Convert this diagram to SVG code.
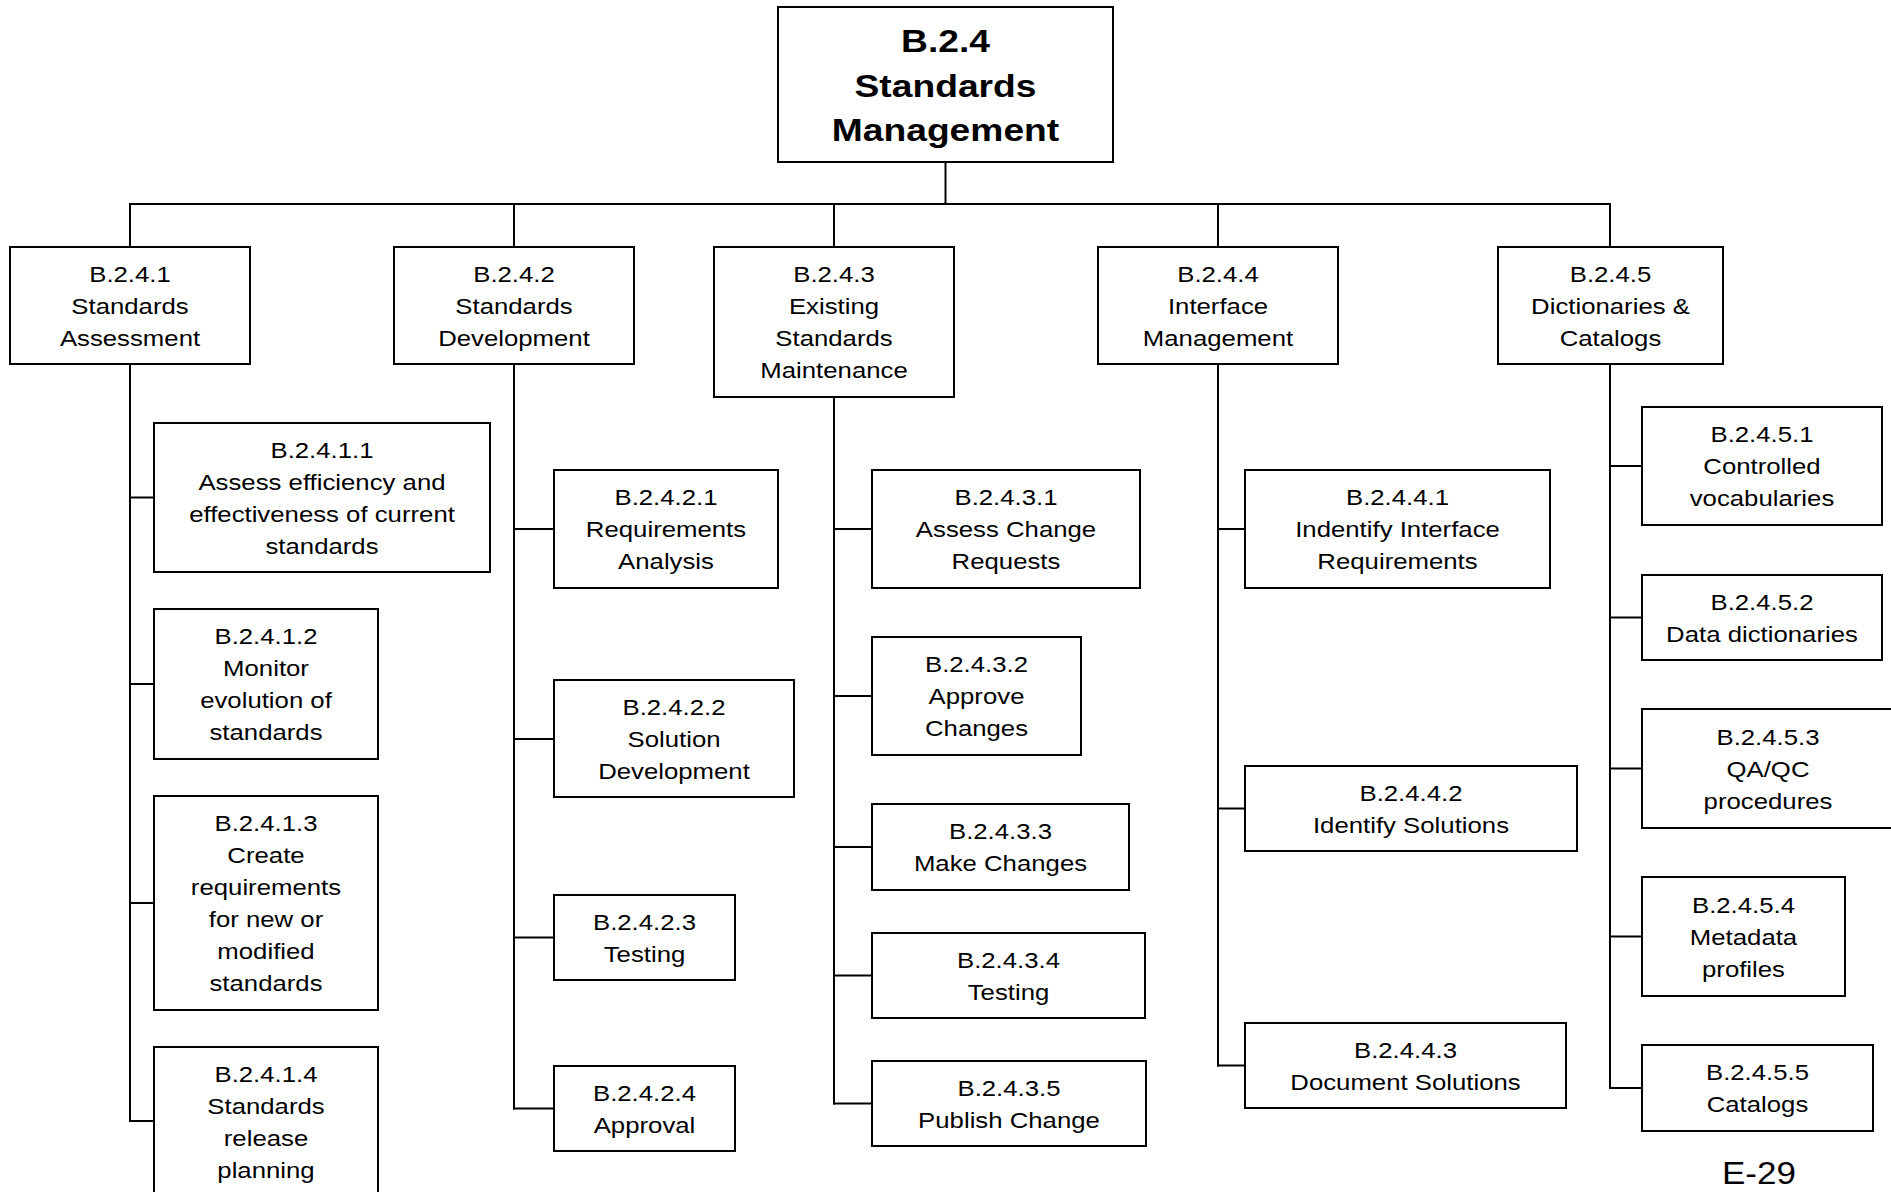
<svg xmlns="http://www.w3.org/2000/svg" width="1891" height="1192" viewBox="0 0 1891 1192">
<style>
rect{fill:#fff;stroke:#000;stroke-width:2}
.c line{stroke:#000;stroke-width:2}
text{font-family:"Liberation Sans",Arial,sans-serif;font-size:23px;fill:#000;text-anchor:middle}
.b{font-weight:bold;font-size:31px}
.p{font-size:31px}
</style>
<rect x="0" y="0" width="1891" height="1192" style="stroke:none"/>
<g class="c" id="connectors">
<line x1="945.5" y1="162" x2="945.5" y2="204"/>
<line x1="129" y1="204" x2="1611" y2="204"/>
<line x1="130" y1="204" x2="130" y2="247"/>
<line x1="514" y1="204" x2="514" y2="247"/>
<line x1="834" y1="204" x2="834" y2="247"/>
<line x1="1218" y1="204" x2="1218" y2="247"/>
<line x1="1610" y1="204" x2="1610" y2="247"/>
<line x1="130" y1="364" x2="130" y2="1122"/>
<line x1="514" y1="364" x2="514" y2="1109.5"/>
<line x1="834" y1="397" x2="834" y2="1104.5"/>
<line x1="1218" y1="364" x2="1218" y2="1066.5"/>
<line x1="1610" y1="364" x2="1610" y2="1089"/>
<line x1="129" y1="497.5" x2="154" y2="497.5"/>
<line x1="129" y1="684" x2="154" y2="684"/>
<line x1="129" y1="903" x2="154" y2="903"/>
<line x1="129" y1="1121" x2="154" y2="1121"/>
<line x1="513" y1="529" x2="554" y2="529"/>
<line x1="513" y1="739" x2="554" y2="739"/>
<line x1="513" y1="937.5" x2="554" y2="937.5"/>
<line x1="513" y1="1108.5" x2="554" y2="1108.5"/>
<line x1="833" y1="529" x2="872" y2="529"/>
<line x1="833" y1="696" x2="872" y2="696"/>
<line x1="833" y1="847" x2="872" y2="847"/>
<line x1="833" y1="975.5" x2="872" y2="975.5"/>
<line x1="833" y1="1103.5" x2="872" y2="1103.5"/>
<line x1="1217" y1="529" x2="1245" y2="529"/>
<line x1="1217" y1="808.5" x2="1245" y2="808.5"/>
<line x1="1217" y1="1065.5" x2="1245" y2="1065.5"/>
<line x1="1609" y1="466" x2="1642" y2="466"/>
<line x1="1609" y1="617.5" x2="1642" y2="617.5"/>
<line x1="1609" y1="768.5" x2="1642" y2="768.5"/>
<line x1="1609" y1="936.5" x2="1642" y2="936.5"/>
<line x1="1609" y1="1088" x2="1642" y2="1088"/>
</g>
<g id="n-B.2.4"><rect x="778" y="7" width="335" height="155"/>
<text class="b" transform="matrix(1.2,0,0,1,945.5,0)"><tspan x="0" y="52.5">B.2.4</tspan><tspan x="0" y="97">Standards</tspan><tspan x="0" y="141">Management</tspan></text></g>

<g id="n-B.2.4.1"><rect x="10" y="247" width="240" height="117"/>
<text transform="matrix(1.12,0,0,1,130,0)"><tspan x="0" y="282">B.2.4.1</tspan><tspan x="0" y="314">Standards</tspan><tspan x="0" y="346">Assessment</tspan></text></g>
<g id="n-B.2.4.2"><rect x="394" y="247" width="240" height="117"/>
<text transform="matrix(1.12,0,0,1,514,0)"><tspan x="0" y="282">B.2.4.2</tspan><tspan x="0" y="314">Standards</tspan><tspan x="0" y="346">Development</tspan></text></g>
<g id="n-B.2.4.3"><rect x="714" y="247" width="240" height="150"/>
<text transform="matrix(1.12,0,0,1,834,0)"><tspan x="0" y="282.5">B.2.4.3</tspan><tspan x="0" y="314.5">Existing</tspan><tspan x="0" y="346.5">Standards</tspan><tspan x="0" y="378.5">Maintenance</tspan></text></g>
<g id="n-B.2.4.4"><rect x="1098" y="247" width="240" height="117"/>
<text transform="matrix(1.12,0,0,1,1218,0)"><tspan x="0" y="282">B.2.4.4</tspan><tspan x="0" y="314">Interface</tspan><tspan x="0" y="346">Management</tspan></text></g>
<g id="n-B.2.4.5"><rect x="1498" y="247" width="225" height="117"/>
<text transform="matrix(1.12,0,0,1,1610.5,0)"><tspan x="0" y="282">B.2.4.5</tspan><tspan x="0" y="314">Dictionaries &amp;</tspan><tspan x="0" y="346">Catalogs</tspan></text></g>

<g id="n-B.2.4.1.1"><rect x="154" y="423" width="336" height="149"/>
<text transform="matrix(1.12,0,0,1,322,0)"><tspan x="0" y="458">B.2.4.1.1</tspan><tspan x="0" y="490">Assess efficiency and</tspan><tspan x="0" y="522">effectiveness of current</tspan><tspan x="0" y="554">standards</tspan></text></g>
<g id="n-B.2.4.1.2"><rect x="154" y="609" width="224" height="150"/>
<text transform="matrix(1.12,0,0,1,266,0)"><tspan x="0" y="644.5">B.2.4.1.2</tspan><tspan x="0" y="676.5">Monitor</tspan><tspan x="0" y="708.5">evolution of</tspan><tspan x="0" y="740.5">standards</tspan></text></g>
<g id="n-B.2.4.1.3"><rect x="154" y="796" width="224" height="214"/>
<text transform="matrix(1.12,0,0,1,266,0)"><tspan x="0" y="831.5">B.2.4.1.3</tspan><tspan x="0" y="863.5">Create</tspan><tspan x="0" y="895.5">requirements</tspan><tspan x="0" y="927.5">for new or</tspan><tspan x="0" y="959.5">modified</tspan><tspan x="0" y="991.5">standards</tspan></text></g>
<g id="n-B.2.4.1.4"><rect x="154" y="1047" width="224" height="150"/>
<text transform="matrix(1.12,0,0,1,266,0)"><tspan x="0" y="1082.5">B.2.4.1.4</tspan><tspan x="0" y="1114.5">Standards</tspan><tspan x="0" y="1146.5">release</tspan><tspan x="0" y="1178.5">planning</tspan></text></g>

<g id="n-B.2.4.2.1"><rect x="554" y="470" width="224" height="118"/>
<text transform="matrix(1.12,0,0,1,666,0)"><tspan x="0" y="505.5">B.2.4.2.1</tspan><tspan x="0" y="537.5">Requirements</tspan><tspan x="0" y="569.5">Analysis</tspan></text></g>
<g id="n-B.2.4.2.2"><rect x="554" y="680" width="240" height="117"/>
<text transform="matrix(1.12,0,0,1,674,0)"><tspan x="0" y="715">B.2.4.2.2</tspan><tspan x="0" y="747">Solution</tspan><tspan x="0" y="779">Development</tspan></text></g>
<g id="n-B.2.4.2.3"><rect x="554" y="895" width="181" height="85"/>
<text transform="matrix(1.12,0,0,1,644.5,0)"><tspan x="0" y="930">B.2.4.2.3</tspan><tspan x="0" y="962">Testing</tspan></text></g>
<g id="n-B.2.4.2.4"><rect x="554" y="1066" width="181" height="85"/>
<text transform="matrix(1.12,0,0,1,644.5,0)"><tspan x="0" y="1101">B.2.4.2.4</tspan><tspan x="0" y="1133">Approval</tspan></text></g>

<g id="n-B.2.4.3.1"><rect x="872" y="470" width="268" height="118"/>
<text transform="matrix(1.12,0,0,1,1006,0)"><tspan x="0" y="505.5">B.2.4.3.1</tspan><tspan x="0" y="537.5">Assess Change</tspan><tspan x="0" y="569.5">Requests</tspan></text></g>
<g id="n-B.2.4.3.2"><rect x="872" y="637" width="209" height="118"/>
<text transform="matrix(1.12,0,0,1,976.5,0)"><tspan x="0" y="672.5">B.2.4.3.2</tspan><tspan x="0" y="704.5">Approve</tspan><tspan x="0" y="736.5">Changes</tspan></text></g>
<g id="n-B.2.4.3.3"><rect x="872" y="804" width="257" height="86"/>
<text transform="matrix(1.12,0,0,1,1000.5,0)"><tspan x="0" y="839.5">B.2.4.3.3</tspan><tspan x="0" y="871.5">Make Changes</tspan></text></g>
<g id="n-B.2.4.3.4"><rect x="872" y="933" width="273" height="85"/>
<text transform="matrix(1.12,0,0,1,1008.5,0)"><tspan x="0" y="968">B.2.4.3.4</tspan><tspan x="0" y="1000">Testing</tspan></text></g>
<g id="n-B.2.4.3.5"><rect x="872" y="1061" width="274" height="85"/>
<text transform="matrix(1.12,0,0,1,1009,0)"><tspan x="0" y="1096">B.2.4.3.5</tspan><tspan x="0" y="1128">Publish Change</tspan></text></g>

<g id="n-B.2.4.4.1"><rect x="1245" y="470" width="305" height="118"/>
<text transform="matrix(1.12,0,0,1,1397.5,0)"><tspan x="0" y="505.5">B.2.4.4.1</tspan><tspan x="0" y="537.5">Indentify Interface</tspan><tspan x="0" y="569.5">Requirements</tspan></text></g>
<g id="n-B.2.4.4.2"><rect x="1245" y="766" width="332" height="85"/>
<text transform="matrix(1.12,0,0,1,1411,0)"><tspan x="0" y="801">B.2.4.4.2</tspan><tspan x="0" y="833">Identify Solutions</tspan></text></g>
<g id="n-B.2.4.4.3"><rect x="1245" y="1023" width="321" height="85"/>
<text transform="matrix(1.12,0,0,1,1405.5,0)"><tspan x="0" y="1058">B.2.4.4.3</tspan><tspan x="0" y="1090">Document Solutions</tspan></text></g>

<g id="n-B.2.4.5.1"><rect x="1642" y="407" width="240" height="118"/>
<text transform="matrix(1.12,0,0,1,1762,0)"><tspan x="0" y="442.5">B.2.4.5.1</tspan><tspan x="0" y="474.5">Controlled</tspan><tspan x="0" y="506.5">vocabularies</tspan></text></g>
<g id="n-B.2.4.5.2"><rect x="1642" y="575" width="240" height="85"/>
<text transform="matrix(1.12,0,0,1,1762,0)"><tspan x="0" y="610">B.2.4.5.2</tspan><tspan x="0" y="642">Data dictionaries</tspan></text></g>
<g id="n-B.2.4.5.3"><rect x="1642" y="709" width="252" height="119"/>
<text transform="matrix(1.12,0,0,1,1768,0)"><tspan x="0" y="745">B.2.4.5.3</tspan><tspan x="0" y="777">QA/QC</tspan><tspan x="0" y="809">procedures</tspan></text></g>
<g id="n-B.2.4.5.4"><rect x="1642" y="877" width="203" height="119"/>
<text transform="matrix(1.12,0,0,1,1743.5,0)"><tspan x="0" y="913">B.2.4.5.4</tspan><tspan x="0" y="945">Metadata</tspan><tspan x="0" y="977">profiles</tspan></text></g>
<g id="n-B.2.4.5.5"><rect x="1642" y="1045" width="231" height="86"/>
<text transform="matrix(1.12,0,0,1,1757.5,0)"><tspan x="0" y="1080.5">B.2.4.5.5</tspan><tspan x="0" y="1112.5">Catalogs</tspan></text></g>

<text class="p" transform="matrix(1.13,0,0,1,1759,0)" x="0" y="1184">E-29</text>
</svg>
